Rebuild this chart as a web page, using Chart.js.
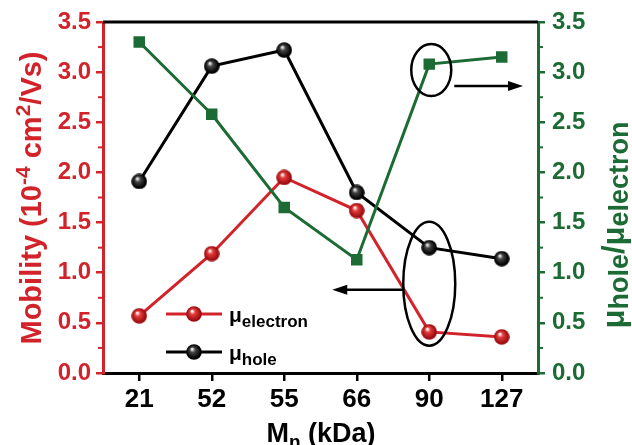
<!DOCTYPE html>
<html>
<head>
<meta charset="utf-8">
<script src="https://cdn.jsdelivr.net/npm/chart.js@4.4.1/dist/chart.umd.min.js"></script>
<style>
  html, body { margin: 0; padding: 0; background: #fff; }
  #wrap { width: 632px; height: 445px; }
</style>
</head>
<body>
<div id="wrap"><canvas id="grafico" width="632" height="445"></canvas></div>
<script>
// datos
const categories = ['21', '52', '55', '66', '90', '127'];
const electron = [0.57, 1.19, 1.95, 1.62, 0.41, 0.36];
const hole = [1.91, 3.06, 3.22, 1.80, 1.25, 1.14];
const ratio = [3.30, 2.58, 1.65, 1.13, 3.08, 3.15];
const yTicks = [0, 0.5, 1.0, 1.5, 2.0, 2.5, 3.0, 3.5];

const RED = '#d2232a';
const GREEN = '#1d6b34';
const FONT = "'Liberation Sans', Arial, sans-serif";

// bolita con brillo para los puntos
function sphere(base, dark, light) {
    const c = document.createElement('canvas');
    c.width = 16; c.height = 16;
    const g = c.getContext('2d');
    const grad = g.createRadialGradient(6, 5, 0.5, 8, 8, 8);
    grad.addColorStop(0, light);
    grad.addColorStop(0.3, base);
    grad.addColorStop(0.85, dark);
    grad.addColorStop(1, dark);
    g.fillStyle = grad;
    g.beginPath();
    g.arc(8, 8, 7.8, 0, Math.PI * 2);
    g.fill();
    return c;
}
const redBall = sphere('#e43a3a', '#9c0d10', '#ffffff');
const blackBall = sphere('#444444', '#000000', '#f0f0f0');

// texto con sub/superindices
function rich(ctx, parts, x, y, align) {
    let w = 0;
    parts.forEach(p => {
        ctx.font = 'bold ' + p.size + 'px ' + FONT;
        w += ctx.measureText(p.t).width;
    });
    let cx = align === 'center' ? x - w / 2 : x;
    ctx.textAlign = 'left';
    ctx.textBaseline = 'alphabetic';
    parts.forEach(p => {
        ctx.font = 'bold ' + p.size + 'px ' + FONT;
        ctx.fillText(p.t, cx, y + (p.dy || 0));
        cx += ctx.measureText(p.t).width;
    });
}

function arrow(ctx, x1, y1, x2, y2) {
    const dir = Math.sign(x2 - x1);
    ctx.beginPath();
    ctx.moveTo(x1, y1);
    ctx.lineTo(x2 - dir * 10, y2);
    ctx.stroke();
    ctx.beginPath();
    ctx.moveTo(x2, y2);
    ctx.lineTo(x2 - dir * 15, y2 - 5);
    ctx.lineTo(x2 - dir * 15, y2 + 5);
    ctx.closePath();
    ctx.fill();
}

const extras = {
    id: 'extras',
    afterDatasetsDraw(chart) {
        const ctx = chart.ctx;
        const a = chart.chartArea;
        const x = chart.scales.x, y = chart.scales.y, y2 = chart.scales.y2;
        ctx.save();
        // borde superior
        ctx.strokeStyle = '#000';
        ctx.lineWidth = 3;
        ctx.beginPath();
        ctx.moveTo(a.left, a.top);
        ctx.lineTo(a.right, a.top);
        ctx.stroke();

        // ticks menores
        ctx.lineWidth = 2;
        for (let i = 0; i < yTicks.length - 1; i++) {
            const v = (yTicks[i] + yTicks[i + 1]) / 2;
            ctx.strokeStyle = RED;
            ctx.beginPath();
            ctx.moveTo(a.left - 1, y.getPixelForValue(v));
            ctx.lineTo(a.left - 5, y.getPixelForValue(v));
            ctx.stroke();
            ctx.strokeStyle = GREEN;
            ctx.beginPath();
            ctx.moveTo(a.right + 1, y2.getPixelForValue(v));
            ctx.lineTo(a.right + 5, y2.getPixelForValue(v));
            ctx.stroke();
        }

        // elipses y flechas
        ctx.strokeStyle = '#000';
        ctx.fillStyle = '#000';
        ctx.lineWidth = 2.5;
        const px = x.getPixelForValue(4);
        ctx.beginPath();
        ctx.ellipse(px + 2, y2.getPixelForValue(ratio[4]) + 6, 20, 26, 0, 0, Math.PI * 2);
        ctx.stroke();
        const cy = (y.getPixelForValue(electron[4]) + y.getPixelForValue(hole[4])) / 2 - 6;
        ctx.beginPath();
        ctx.ellipse(px, cy, 26, 62, 0, 0, Math.PI * 2);
        ctx.stroke();
        arrow(ctx, px + 25, y2.getPixelForValue(ratio[4]) + 22, a.right - 15, y2.getPixelForValue(ratio[4]) + 22);
        arrow(ctx, px - 26, cy + 6, px - 97, cy + 6);

        // leyenda
        const leg = [[RED, redBall, 'electron', 314], ['#000', blackBall, 'hole', 352]];
        leg.forEach(l => {
            ctx.strokeStyle = l[0];
            ctx.lineWidth = 3;
            ctx.beginPath();
            ctx.moveTo(166, l[3]);
            ctx.lineTo(222, l[3]);
            ctx.stroke();
            ctx.drawImage(l[1], 186, l[3] - 8);
            ctx.fillStyle = '#000';
            rich(ctx, [{t: 'μ', size: 21}, {t: l[2], size: 17, dy: 5}], 229, l[3] + 8, 'left');
        });

        // titulos de ejes
        ctx.fillStyle = '#000';
        rich(ctx, [{t: 'M', size: 27}, {t: 'n', size: 19, dy: 6}, {t: ' (kDa)', size: 27}], 321, 442, 'center');

        ctx.save();
        ctx.translate(41, 198);
        ctx.rotate(-Math.PI / 2);
        ctx.fillStyle = RED;
        rich(ctx, [{t: 'Mobility (10', size: 29}, {t: '-4', size: 21, dy: -11}, {t: ' cm', size: 29},
                   {t: '2', size: 21, dy: -11}, {t: '/Vs)', size: 29}], 0, 0, 'center');
        ctx.restore();

        ctx.save();
        ctx.translate(624, 225);
        ctx.rotate(-Math.PI / 2);
        ctx.fillStyle = GREEN;
        rich(ctx, [{t: 'μ', size: 31}, {t: 'hole', size: 27, dy: 4}, {t: '/μ', size: 31},
                   {t: 'electron', size: 27, dy: 4}], 0, 0, 'center');
        ctx.restore();
        ctx.restore();
    }
};

const ctx = document.getElementById('grafico').getContext('2d');
try {
    new Chart(ctx, {
        type: 'line',
        data: {
            labels: categories,
            datasets: [{
                label: 'ratio',
                data: ratio,
                yAxisID: 'y2',
                borderColor: GREEN,
                backgroundColor: GREEN,
                borderWidth: 3,
                pointStyle: 'rect',
                pointRadius: 6,
                pointHoverRadius: 6,
                tension: 0
            }, {
                label: 'hole',
                data: hole,
                yAxisID: 'y',
                borderColor: '#000',
                borderWidth: 3,
                pointStyle: blackBall,
                tension: 0
            }, {
                label: 'electron',
                data: electron,
                yAxisID: 'y',
                borderColor: RED,
                borderWidth: 3,
                pointStyle: redBall,
                tension: 0
            }]
        },
        options: {
            responsive: false,
            animation: false,
            layout: { padding: { top: 22, left: 0, right: 0, bottom: 0 } },
            plugins: { legend: { display: false }, tooltip: { enabled: false } },
            scales: {
                x: {
                    offset: true,
                    grid: { offset: false, drawOnChartArea: false, color: '#000', lineWidth: 2.5, tickLength: 8 },
                    border: { color: '#000', width: 3 },
                    ticks: { color: '#000', padding: 3, font: { family: FONT, size: 26, weight: 'bold' } },
                    afterFit: s => { s.height = 72; }
                },
                y: {
                    position: 'left',
                    min: 0, max: 3.5,
                    afterBuildTicks: s => { s.ticks = yTicks.map(v => ({ value: v })); },
                    grid: { drawOnChartArea: false, color: RED, lineWidth: 2.5, tickLength: 7 },
                    border: { color: RED, width: 3 },
                    ticks: { color: RED, padding: 5, callback: v => v.toFixed(1),
                             font: { family: FONT, size: 24, weight: 'bold' } },
                    afterFit: s => { s.width = 103; }
                },
                y2: {
                    position: 'right',
                    min: 0, max: 3.5,
                    afterBuildTicks: s => { s.ticks = yTicks.map(v => ({ value: v })); },
                    grid: { drawOnChartArea: false, color: GREEN, lineWidth: 2.5, tickLength: 7 },
                    border: { color: GREEN, width: 3 },
                    ticks: { color: GREEN, padding: 7, callback: v => v.toFixed(1),
                             font: { family: FONT, size: 24, weight: 'bold' } },
                    afterFit: s => { s.width = 94; }
                }
            }
        },
        plugins: [extras]
    });
} catch (error) {
    console.error('Error creando el grafico:', error);
}
</script>
</body>
</html>
